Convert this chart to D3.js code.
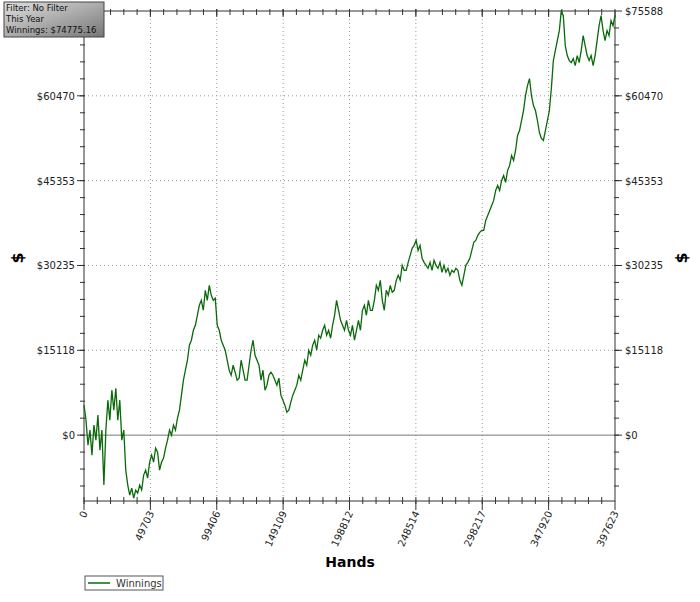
<!DOCTYPE html><html><head><meta charset="utf-8"><script src="https://cdn.jsdelivr.net/npm/d3@7"></script>
<style>body{margin:0;background:#fff}text{font-family:"DejaVu Sans",Verdana,sans-serif}</style></head><body><svg id="c" width="700" height="602"></svg>
<script>
const totalHands = 397623;
const xTicks = [0,49703,99406,149109,198812,248514,298217,347920,397623];
const yTicks = [0,15118,30235,45353,60470,75588];
const yMin = -11740;
const winnings = [5340,2670,-1780,890,-3560,1780,-890,3560,-2670,890,-8900,890,6230,2670,8010,4450,8366,2670,6230,-890,890,-6230,-8900,-10680,-9434,-11214,-9790,-10324,-8900,-9790,-7120,-6230,-7654,-4806,-3560,-4806,-2314,-3026,-6230,-4806,-4094,-2314,-890,890,0,1780,890,3026,4450,7120,9790,11570,13350,16020,16910,18690,19580,21360,23140,24030,22250,25810,24030,26700,24920,24030,24386,19580,18690,16910,16020,15130,13350,11570,10680,12460,11214,9790,10146,13350,11570,9790,9790,12460,15130,16910,14240,13350,12460,9790,11570,8010,8900,10680,11214,10680,9790,8900,10146,7120,6230,5340,4094,4450,5874,7120,8010,8900,10680,9790,11570,13350,12460,15130,14240,16020,16910,15130,17800,17266,18690,19580,17800,18690,17266,19580,21360,24030,22250,20470,19580,18690,20470,18690,17800,19580,16910,18690,20470,18690,22250,23140,21360,24030,22250,22250,24030,26700,25810,27590,24030,22250,25810,24920,26700,25454,25810,27590,28480,27590,30260,29370,29370,30794,32040,33286,33820,34710,32930,33820,31506,30794,30260,29726,30794,29370,31150,30260,29726,30794,29014,30260,29014,29726,28480,29370,29014,29726,29370,27590,26700,28480,30260,30794,31506,32930,34354,34710,35600,36134,36490,36490,38270,39160,40050,40940,41830,43610,44500,43610,45390,46280,45034,47170,48060,49840,48950,50730,53400,54290,56070,57850,60520,62300,63546,60520,58740,57850,56070,53934,52866,52510,54290,56070,57850,61766,66750,68530,70310,72090,75650,74760,69420,67640,66750,66394,67106,65860,67640,66394,68530,71200,69420,67640,66750,67640,65860,67640,70310,72980,74760,72090,70310,72090,71200,73870,72980,74775];
const hands = winnings.map((d,i)=>i*totalHands/(winnings.length-1));

const svg = d3.select("#c");
const L=84,R=615,T=11,B=501;
const x = d3.scaleLinear().domain([0,totalHands]).range([L,R]);
const y = d3.scaleLinear().domain([yMin,yTicks[5]]).range([B,T]);

const g = svg.append("g");
xTicks.slice(1,-1).forEach(t=>g.append("line").attr("x1",x(t)).attr("x2",x(t)).attr("y1",T).attr("y2",B).attr("stroke","#999").attr("stroke-dasharray","1,3"));
yTicks.slice(1,-1).forEach(t=>g.append("line").attr("x1",L).attr("x2",R).attr("y1",y(t)).attr("y2",y(t)).attr("stroke","#999").attr("stroke-dasharray","1,3"));
svg.append("line").attr("x1",L).attr("x2",R).attr("y1",y(0)).attr("y2",y(0)).attr("stroke","#777");

const yMinor = d3.range(-3,26).map(i=>i*yTicks[1]/5).filter(v=>v>=yMin&&v<=yTicks[5]);
const xMinor = d3.range(0,41).map(i=>i*xTicks[1]/5).filter(v=>v<=totalHands);
const ax = svg.append("g").attr("stroke","#333");
yMinor.forEach(v=>{ax.append("line").attr("x1",L-4).attr("x2",L+1).attr("y1",y(v)).attr("y2",y(v));ax.append("line").attr("x1",R-1).attr("x2",R+4).attr("y1",y(v)).attr("y2",y(v));});
yTicks.forEach(v=>{ax.append("line").attr("x1",L-7).attr("x2",L).attr("y1",y(v)).attr("y2",y(v));ax.append("line").attr("x1",R).attr("x2",R+7).attr("y1",y(v)).attr("y2",y(v));});
xMinor.forEach(v=>{ax.append("line").attr("x1",x(v)).attr("x2",x(v)).attr("y1",B-4).attr("y2",B+3);ax.append("line").attr("x1",x(v)).attr("x2",x(v)).attr("y1",T-2).attr("y2",T+4);});
xTicks.forEach(v=>{ax.append("line").attr("x1",x(v)).attr("x2",x(v)).attr("y1",B).attr("y2",B+9);ax.append("line").attr("x1",x(v)).attr("x2",x(v)).attr("y1",T-2).attr("y2",T+6);});
svg.append("rect").attr("x",L).attr("y",T).attr("width",R-L).attr("height",B-T).attr("fill","none").attr("stroke","#333");

svg.append("path").datum(winnings).attr("fill","none").attr("stroke","#0a6a0a").attr("stroke-width",1.3)
 .attr("d",d3.line().x((d,i)=>x(hands[i])).y(d=>y(d)));

yTicks.forEach(v=>{
 if (v !== yTicks[5]) svg.append("text").attr("x",L-9).attr("y",y(v)+4).attr("text-anchor","end").attr("font-size",10).attr("fill","#222").text("$"+v);
 svg.append("text").attr("x",R+10).attr("y",y(v)+4).attr("font-size",10).attr("fill","#222").text("$"+v);
});
xTicks.forEach(v=>{
 svg.append("text").attr("transform",`translate(${x(v)+4},${B+12}) rotate(-65)`).attr("text-anchor","end").attr("font-size",10).attr("fill","#222").text(v);
});
svg.append("text").attr("x",350).attr("y",567).attr("text-anchor","middle").attr("font-size",14).attr("font-weight","bold").text("Hands");
[18,682].forEach(px=>svg.append("text").attr("transform",`translate(${px+5},258) rotate(-90)`).attr("text-anchor","middle").attr("font-size",16).attr("font-weight","bold").text("$"));

svg.append("rect").attr("x",85).attr("y",576).attr("width",78).attr("height",14).attr("fill","#fff").attr("stroke","#555");
svg.append("line").attr("x1",88).attr("x2",110).attr("y1",583).attr("y2",583).attr("stroke","#0a6a0a").attr("stroke-width",1.5);
svg.append("text").attr("x",116).attr("y",587).attr("font-size",10).attr("fill","#333").text("Winnings");

const gr = svg.append("defs").append("linearGradient").attr("id","gb").attr("x1",0).attr("x2",1).attr("y1",0).attr("y2",1);
gr.append("stop").attr("offset","0").attr("stop-color","#e0e0e0");
gr.append("stop").attr("offset","1").attr("stop-color","#777");
svg.append("rect").attr("x",4).attr("y",2).attr("width",100).attr("height",35).attr("fill","url(#gb)").attr("stroke","#444");
["Filter: No Filter","This Year","Winnings: $74775.16"].forEach((t,i)=>svg.append("text").attr("x",6).attr("y",11+i*11).attr("font-size",8.5).attr("fill","#111").text(t));
</script></body></html>
